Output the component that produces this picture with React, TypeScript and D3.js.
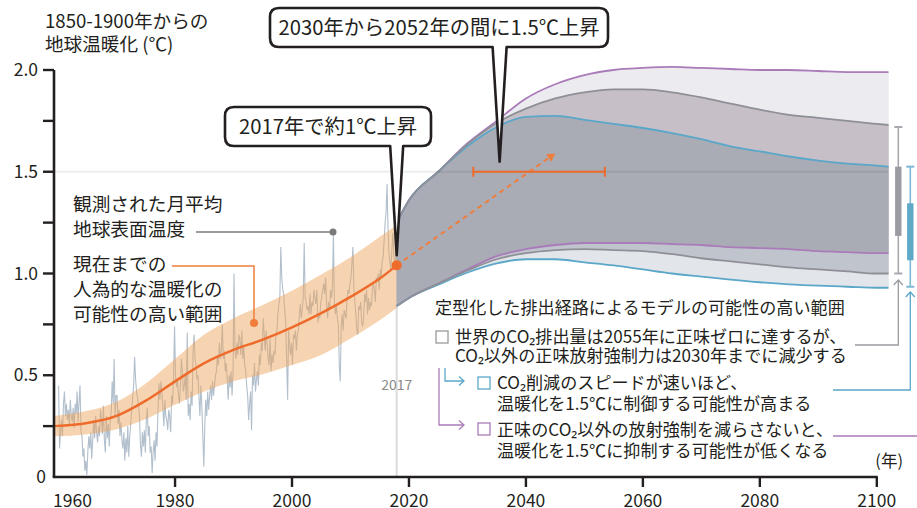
import React, { useEffect, useRef } from 'react';
import * as d3 from 'd3';

const W = 917;
const H = 508;
const FONT = '"Noto Sans CJK JP", "Noto Sans", sans-serif';

// observed global mean surface temperature, sampled every two months (1960-2017)
const obsStartYear = 1960;
const observed: number[] = [
  0.45, 0.14, 0.22, 0.28, 0.20, 0.36,
  0.42, 0.30, 0.36, 0.28, 0.33, 0.25,
  0.38, 0.30, 0.27, 0.34, 0.24, 0.36,
  0.31, 0.42, 0.27, 0.37, 0.45, 0.22,
  0.20, 0.10, 0.14, 0.03, 0.08, 0.01,
  0.12, 0.20, 0.14, 0.22, 0.09, 0.18,
  0.28, 0.19, 0.30, 0.22, 0.17, 0.25,
  0.20, 0.33, 0.28, 0.21, 0.35, 0.18,
  0.12, 0.30, 0.19, 0.26, 0.15, 0.28,
  0.32, 0.47, 0.36, 0.58, 0.30, 0.40,
  0.40, 0.26, 0.33, 0.20, 0.27, 0.18,
  0.14, 0.22, 0.08, 0.19, 0.12, 0.25,
  0.10, 0.20, 0.26, 0.33, 0.39, 0.45,
  0.59, 0.48, 0.42, 0.39, 0.35, 0.30,
  0.16, 0.10, 0.22, 0.15, 0.23, 0.12,
  0.28, 0.34, 0.20, 0.25, 0.12, 0.15,
  0.02, 0.12, 0.18, 0.08, 0.22, 0.15,
  0.33, 0.46, 0.38, 0.47, 0.42, 0.34,
  0.25, 0.38, 0.30, 0.28, 0.23, 0.33,
  0.30, 0.22, 0.40, 0.36, 0.50, 0.74,
  0.50, 0.44, 0.48, 0.40, 0.36, 0.45,
  0.58, 0.52, 0.42, 0.45, 0.50, 0.38,
  0.71, 0.30, 0.36, 0.28, 0.42, 0.35,
  0.62, 0.70, 0.58, 0.55, 0.48, 0.50,
  0.40, 0.30, 0.45, 0.35, 0.20, 0.05,
  0.25, 0.38, 0.30, 0.42, 0.33, 0.40,
  0.45, 0.38, 0.47, 0.40, 0.45, 0.50,
  0.52, 0.60, 0.55, 0.66, 0.58, 0.62,
  0.75, 0.58, 0.62, 0.52, 0.56, 0.48,
  0.38, 0.50, 0.44, 0.52, 0.40, 0.52,
  1.00, 0.62, 0.58, 0.66, 0.60, 0.70,
  0.68, 0.60, 0.72, 0.58, 0.64, 0.55,
  0.52, 0.45, 0.40, 0.28, 0.36, 0.42,
  0.23, 0.50, 0.45, 0.56, 0.42, 0.48,
  0.52, 0.45, 0.60, 0.55, 0.66, 0.62,
  0.78, 0.70, 0.62, 0.72, 0.65, 0.58,
  0.55, 0.68, 0.52, 0.60, 0.56, 0.62,
  0.60, 0.70, 0.72, 0.80, 0.85, 0.88,
  1.13, 0.98, 0.92, 0.90, 0.82, 0.76,
  0.58, 0.38, 0.72, 0.65, 0.60, 0.66,
  0.55, 0.70, 0.68, 0.72, 0.62, 0.70,
  0.72, 0.80, 0.85, 0.78, 0.82, 0.88,
  1.15, 0.88, 0.86, 0.82, 0.84, 0.80,
  0.90, 0.80, 0.86, 0.84, 0.92, 0.88,
  0.85, 0.92, 0.76, 0.80, 0.78, 0.86,
  0.88, 0.92, 0.95, 0.90, 0.98, 0.85,
  0.78, 0.86, 0.82, 0.92, 0.88, 0.94,
  1.20, 0.85, 0.80, 0.84, 0.78, 0.75,
  0.55, 0.47, 0.74, 0.80, 0.72, 0.82,
  0.80, 0.78, 0.88, 0.92, 0.90, 0.95,
  0.98, 1.05, 1.13, 0.92, 0.86, 0.80,
  0.72, 0.70, 0.84, 0.82, 0.86, 0.76,
  0.74, 0.78, 0.90, 0.86, 0.92, 0.80,
  0.88, 0.82, 0.86, 0.84, 0.92, 0.95,
  0.92, 0.86, 0.98, 0.96, 1.00, 0.92,
  1.02, 0.98, 1.06, 1.08, 1.16, 1.25,
  1.30, 1.44, 1.22, 1.10, 1.05, 1.02,
  1.12, 1.20, 1.08, 1.05, 1.10, 1.06,
];

// human-induced warming to date and its likely range
const bandYears = [1959.3, 1965, 1970, 1975, 1980, 1985, 1990, 1995, 2000, 2005, 2010, 2015, 2017.9];
const bandMid = [0.25, 0.265, 0.30, 0.375, 0.47, 0.56, 0.625, 0.675, 0.735, 0.805, 0.885, 0.975, 1.04];
const bandHigh = [0.30, 0.325, 0.37, 0.46, 0.58, 0.70, 0.78, 0.845, 0.915, 0.995, 1.08, 1.18, 1.24];
const bandLow = [0.20, 0.21, 0.235, 0.285, 0.355, 0.42, 0.47, 0.505, 0.55, 0.60, 0.68, 0.77, 0.83];

const nowYear = 2017.9;
const nowValue = 1.04;

// stylised pathway ranges
const projYears = [2017.9, 2020, 2025, 2030, 2035, 2040, 2045, 2050, 2055, 2060, 2065, 2070, 2075, 2080, 2085, 2090, 2095, 2100, 2102];
const purpleHigh = [1.25, 1.36, 1.50, 1.64, 1.75, 1.86, 1.93, 1.975, 2.0, 2.01, 2.015, 2.01, 2.005, 2.0, 2.0, 1.995, 1.99, 1.99, 1.99];
const grayHigh = [1.25, 1.36, 1.50, 1.635, 1.74, 1.81, 1.86, 1.89, 1.905, 1.905, 1.89, 1.865, 1.835, 1.805, 1.78, 1.765, 1.75, 1.735, 1.73];
const blueHigh = [1.25, 1.36, 1.50, 1.625, 1.72, 1.77, 1.775, 1.755, 1.735, 1.715, 1.69, 1.66, 1.625, 1.60, 1.575, 1.555, 1.54, 1.53, 1.525];
const purpleLow = [0.84, 0.88, 0.95, 1.02, 1.085, 1.12, 1.14, 1.15, 1.15, 1.15, 1.145, 1.14, 1.13, 1.125, 1.12, 1.11, 1.105, 1.10, 1.10];
const grayLow = [0.84, 0.88, 0.95, 1.015, 1.07, 1.10, 1.115, 1.12, 1.115, 1.11, 1.095, 1.075, 1.06, 1.045, 1.03, 1.02, 1.01, 1.0, 1.0];
const blueLow = [0.84, 0.88, 0.945, 1.005, 1.05, 1.07, 1.07, 1.055, 1.04, 1.02, 1.0, 0.985, 0.97, 0.957, 0.947, 0.94, 0.935, 0.93, 0.93];

// 2100 ranges [min, box low, box high, max]
const grayRange2100 = [1.0, 1.185, 1.525, 1.72];
const blueRange2100 = [0.935, 1.065, 1.345, 1.525];

// 1.5°C crossing window
const crossStart = 2031;
const crossEnd = 2053.5;
const arrowEnd = { year: 2045, value: 1.59 };

const yTicks = [0.25, 0.5, 0.75, 1.0, 1.25, 1.5, 1.75, 2.0];
const yLabels = [0, 0.5, 1.0, 1.5, 2.0];
const xTicks = [1960, 1980, 2000, 2020, 2040, 2060, 2080, 2100];

const INK = '#231f20';
const ORANGE = '#ee6b2b';
const PURPLE = '#a97bb9';
const GRAY = '#8f8f97';
const BLUE = '#5aa7c9';

const App: React.FC = () => {
  const svgRef = useRef<SVGSVGElement | null>(null);

  useEffect(() => {
    const svg = d3.select(svgRef.current);
    svg.selectAll('*').remove();

    const x = d3.scaleLinear().domain([1959.3, 2100]).range([54, 876.8]);
    const y = d3.scaleLinear().domain([0, 2]).range([477, 70]);
    const x0 = x.range()[0];
    const xEnd = x(2100);

    // observed
    const obsLine = d3.line<number>()
      .x((_, i) => x(obsStartYear + i / 6 + 1 / 12))
      .y(d => y(d));

    // 2017 marker line
    svg.append('line')
      .attr('x1', x(nowYear)).attr('x2', x(nowYear))
      .attr('y1', y(0)).attr('y2', y(0.85))
      .attr('stroke', '#dcdcdc').attr('stroke-width', 2);

    svg.append('path')
      .datum(observed)
      .attr('d', obsLine)
      .attr('fill', 'none')
      .attr('stroke', '#b2bfcc')
      .attr('stroke-width', 1.1);

    // orange likely range
    const band = bandYears.map((yr, i) => ({ yr, mid: bandMid[i], hi: bandHigh[i], lo: bandLow[i] }));
    svg.append('path')
      .datum(band)
      .attr('d', d3.area<any>().x(d => x(d.yr)).y0(d => y(d.lo)).y1(d => y(d.hi)).curve(d3.curveMonotoneX))
      .attr('fill', '#eea35a')
      .attr('opacity', 0.47);

    // projection fan
    const proj = projYears.map((yr, i) => ({
      yr, pu: purpleHigh[i], gu: grayHigh[i], bu: blueHigh[i],
      pl: purpleLow[i], gl: grayLow[i], bl: blueLow[i],
    }));
    const layers: [string, string, string][] = [
      ['pu', 'gu', '#ecebf0'],
      ['gu', 'bu', '#c6bfc7'],
      ['bu', 'pl', '#a9abb5'],
      ['pl', 'gl', '#c0c4cc'],
      ['gl', 'bl', '#e2e5ea'],
    ];
    layers.forEach(([a, b, c]) => {
      svg.append('path')
        .datum(proj)
        .attr('d', d3.area<any>().x(d => x(d.yr)).y0(d => y(d[b])).y1(d => y(d[a])).curve(d3.curveMonotoneX))
        .attr('fill', c)
        .attr('stroke', c)
        .attr('stroke-width', 0.6);
    });
    const edges: [string, string][] = [
      ['pu', PURPLE], ['pl', PURPLE], ['bu', BLUE], ['bl', BLUE], ['gu', GRAY], ['gl', GRAY],
    ];
    edges.forEach(([k, c]) => {
      svg.append('path')
        .datum(proj)
        .attr('d', d3.line<any>().x(d => x(d.yr)).y(d => y(d[k])).curve(d3.curveMonotoneX))
        .attr('fill', 'none')
        .attr('stroke', c)
        .attr('stroke-width', 1.8);
    });

    // 1.5 grid line
    svg.append('line')
      .attr('x1', x0).attr('x2', x(2102))
      .attr('y1', y(1.5)).attr('y2', y(1.5))
      .attr('stroke', '#000').attr('stroke-opacity', 0.07).attr('stroke-width', 2);

    // orange central line + dot
    svg.append('path')
      .datum(band)
      .attr('d', d3.line<any>().x(d => x(d.yr)).y(d => y(d.mid)).curve(d3.curveMonotoneX))
      .attr('fill', 'none')
      .attr('stroke', ORANGE)
      .attr('stroke-width', 2.5);

    // dashed projection arrow
    const ax1 = x(nowYear), ay1 = y(nowValue), ax2 = x(arrowEnd.year), ay2 = y(arrowEnd.value);
    const ang = Math.atan2(ay2 - ay1, ax2 - ax1);
    svg.append('line')
      .attr('x1', ax1).attr('y1', ay1)
      .attr('x2', ax2 - 6 * Math.cos(ang)).attr('y2', ay2 - 6 * Math.sin(ang))
      .attr('stroke', '#ef7d3c').attr('stroke-width', 2).attr('stroke-dasharray', '5,4');
    const ah = 8, aw = 4.5;
    const bx = ax2 - ah * Math.cos(ang), by = ay2 - ah * Math.sin(ang);
    svg.append('path')
      .attr('d', `M${ax2},${ay2} L${bx + aw * Math.sin(ang)},${by - aw * Math.cos(ang)} L${bx - aw * Math.sin(ang)},${by + aw * Math.cos(ang)} Z`)
      .attr('fill', '#ef7d3c');

    svg.append('circle')
      .attr('cx', x(nowYear)).attr('cy', y(nowValue)).attr('r', 5)
      .attr('fill', ORANGE);

    // 1.5 crossing window
    const cy = y(1.5);
    svg.append('line')
      .attr('x1', x(crossStart)).attr('x2', x(crossEnd)).attr('y1', cy).attr('y2', cy)
      .attr('stroke', ORANGE).attr('stroke-width', 2);
    [crossStart, crossEnd].forEach(v => {
      svg.append('line')
        .attr('x1', x(v)).attr('x2', x(v)).attr('y1', cy - 5).attr('y2', cy + 5)
        .attr('stroke', ORANGE).attr('stroke-width', 2);
    });

    // 2100 whiskers
    const whisker = (r: number[], px: number, thin: string, thick: string) => {
      svg.append('line').attr('x1', px).attr('x2', px).attr('y1', y(r[0])).attr('y2', y(r[3]))
        .attr('stroke', thin).attr('stroke-width', 1.6);
      [r[0], r[3]].forEach(v => {
        svg.append('line').attr('x1', px - 4).attr('x2', px + 4).attr('y1', y(v)).attr('y2', y(v))
          .attr('stroke', thin).attr('stroke-width', 2);
      });
      svg.append('rect').attr('x', px - 3.2).attr('width', 6.4)
        .attr('y', y(r[2])).attr('height', y(r[1]) - y(r[2]))
        .attr('fill', thick);
    };
    whisker(grayRange2100, xEnd + 21.5, '#a8a8ae', '#9a9ba3');
    whisker(blueRange2100, xEnd + 33.5, '#7db8d2', '#5ea8c8');

    // axes
    const ax = svg.append('g');
    ax.append('line').attr('x1', x0).attr('x2', x0).attr('y1', y(2)).attr('y2', y(0))
      .attr('stroke', INK).attr('stroke-width', 2.6);
    ax.append('line').attr('x1', x0 - 1.3).attr('x2', xEnd + 1).attr('y1', y(0)).attr('y2', y(0))
      .attr('stroke', INK).attr('stroke-width', 2.6);
    yTicks.forEach(t => {
      ax.append('line').attr('x1', x0 - 11).attr('x2', x0).attr('y1', y(t)).attr('y2', y(t))
        .attr('stroke', INK).attr('stroke-width', 2.4);
    });
    yLabels.forEach(t => {
      ax.append('text')
        .attr('x', t === 0 ? x0 - 8 : x0 - 16)
        .attr('y', y(t) + 6)
        .attr('text-anchor', 'end')
        .attr('font-size', 17.5)
        .attr('fill', INK)
        .text(t === 0 ? '0' : d3.format('.1f')(t));
    });
    xTicks.forEach(t => {
      if (t !== 1960) {
        ax.append('line').attr('x1', x(t)).attr('x2', x(t)).attr('y1', y(0)).attr('y2', y(0) + 10)
          .attr('stroke', INK).attr('stroke-width', 2.4);
      }
      ax.append('text')
        .attr('x', t === 1960 ? x0 - 1 : x(t))
        .attr('y', 507)
        .attr('text-anchor', t === 1960 ? 'start' : 'middle')
        .attr('font-size', 17.5)
        .attr('fill', INK)
        .text(t);
    });

    const txt = (s: string, tx: number, ty: number, size: number, fill = INK, anchor = 'start') =>
      svg.append('text').attr('x', tx).attr('y', ty).attr('font-size', size)
        .attr('fill', fill).attr('text-anchor', anchor).text(s);

    txt('1850-1900年からの', 45, 28, 18.6);
    txt('地球温暖化 (℃)', 45, 51, 18.6);
    txt('(年)', 903, 467, 16.5, INK, 'end');
    txt('2017', x(nowYear), 390, 14, '#8a8a8a', 'middle');

    // left annotations
    txt('観測された月平均', 73, 211, 18.7);
    txt('地球表面温度', 73, 236, 18.7);
    svg.append('line').attr('x1', 196).attr('x2', 333).attr('y1', 232).attr('y2', 232)
      .attr('stroke', '#7a7a7a').attr('stroke-width', 1.5);
    svg.append('circle').attr('cx', 333).attr('cy', 232).attr('r', 3.5).attr('fill', '#7a7a7a');

    txt('現在までの', 73, 271, 18.7);
    txt('人為的な温暖化の', 73, 296, 18.7);
    txt('可能性の高い範囲', 73, 321, 18.7);
    svg.append('path').attr('d', 'M172,266 H254 V323')
      .attr('fill', 'none').attr('stroke', '#ef7d3c').attr('stroke-width', 1.5);
    svg.append('circle').attr('cx', 254).attr('cy', 323).attr('r', 4).attr('fill', '#ef7d3c');

    // legend
    const LF = 17.1;
    txt('定型化した排出経路によるモデルの可能性の高い範囲', 435, 314, LF);
    const sq = (sx: number, sy: number, c: string) =>
      svg.append('rect').attr('x', sx).attr('y', sy).attr('width', 12).attr('height', 12)
        .attr('fill', '#fff').attr('stroke', c).attr('stroke-width', 1.3);
    sq(436, 331, '#9a9a9a');
    txt('世界のCO₂排出量は2055年に正味ゼロに達するが、', 455, 343, LF);
    txt('CO₂以外の正味放射強制力は2030年までに減少する', 455, 362, LF);
    sq(478, 377, BLUE);
    txt('CO₂削減のスピードが速いほど、', 497, 389, LF);
    txt('温暖化を1.5℃に制御する可能性が高まる', 497, 410, LF);
    sq(478, 423, PURPLE);
    txt('正味のCO₂以外の放射強制を減らさないと、', 497, 436, LF);
    txt('温暖化を1.5℃に抑制する可能性が低くなる', 497, 457, LF);

    const chevRight = (px: number, py: number, c: string) =>
      svg.append('path').attr('d', `M${px - 5},${py - 4.5} L${px},${py} L${px - 5},${py + 4.5}`)
        .attr('fill', 'none').attr('stroke', c).attr('stroke-width', 1.3);
    const chevUp = (px: number, py: number, c: string) =>
      svg.append('path').attr('d', `M${px - 4.5},${py + 5} L${px},${py} L${px + 4.5},${py + 5}`)
        .attr('fill', 'none').attr('stroke', c).attr('stroke-width', 1.3);

    svg.append('path').attr('d', 'M445,368 V381 H464').attr('fill', 'none').attr('stroke', BLUE).attr('stroke-width', 1.3);
    chevRight(464, 381, BLUE);
    svg.append('path').attr('d', 'M439,368 V425 H464').attr('fill', 'none').attr('stroke', PURPLE).attr('stroke-width', 1.3);
    chevRight(464, 425, PURPLE);

    const gX = xEnd + 21.5, bX = xEnd + 33.5;
    svg.append('path').attr('d', `M855,345 H${gX} V280`).attr('fill', 'none').attr('stroke', '#9a9aa0').attr('stroke-width', 1.3);
    chevUp(gX, 280, '#9a9aa0');
    svg.append('path').attr('d', `M833,390 H${bX} V292`).attr('fill', 'none').attr('stroke', BLUE).attr('stroke-width', 1.3);
    chevUp(bX, 292, BLUE);
    svg.append('line').attr('x1', 833).attr('x2', W).attr('y1', 436).attr('y2', 436)
      .attr('stroke', PURPLE).attr('stroke-width', 1.3);

    // callouts
    const callout = (bx0: number, by0: number, bx1: number, by1: number, p0: number, p1: number, tx: number, ty: number, label: string) => {
      const r = 9;
      const d = `M${bx0 + r},${by0} H${bx1 - r} Q${bx1},${by0} ${bx1},${by0 + r} V${by1 - r} Q${bx1},${by1} ${bx1 - r},${by1} ` +
        `H${p1} L${tx},${ty} L${p0},${by1} H${bx0 + r} Q${bx0},${by1} ${bx0},${by1 - r} V${by0 + r} Q${bx0},${by0} ${bx0 + r},${by0} Z`;
      svg.append('path').attr('d', d).attr('fill', '#fff').attr('stroke', INK)
        .attr('stroke-width', 2.6).attr('stroke-linejoin', 'round');
      txt(label, (bx0 + bx1) / 2, (by0 + by1) / 2 + 7, 20.3, INK, 'middle');
    };
    const t1x = x(nowYear), t1y = y(1.09);
    callout(225, 107, 431, 146, t1x - 6.5, t1x + 6.5, t1x, t1y, '2017年で約1℃上昇');
    const t2x = x(2035.5), t2y = y(1.55);
    callout(270, 8, 608, 47, t2x - 7, t2x + 7, t2x, t2y, '2030年から2052年の間に1.5℃上昇');
  }, []);

  return (
    <>
      <style>{'body{margin:0}'}</style>
      <svg ref={svgRef} width={W} height={H} style={{ display: 'block', fontFamily: FONT }} />
    </>
  );
};

export default App;
